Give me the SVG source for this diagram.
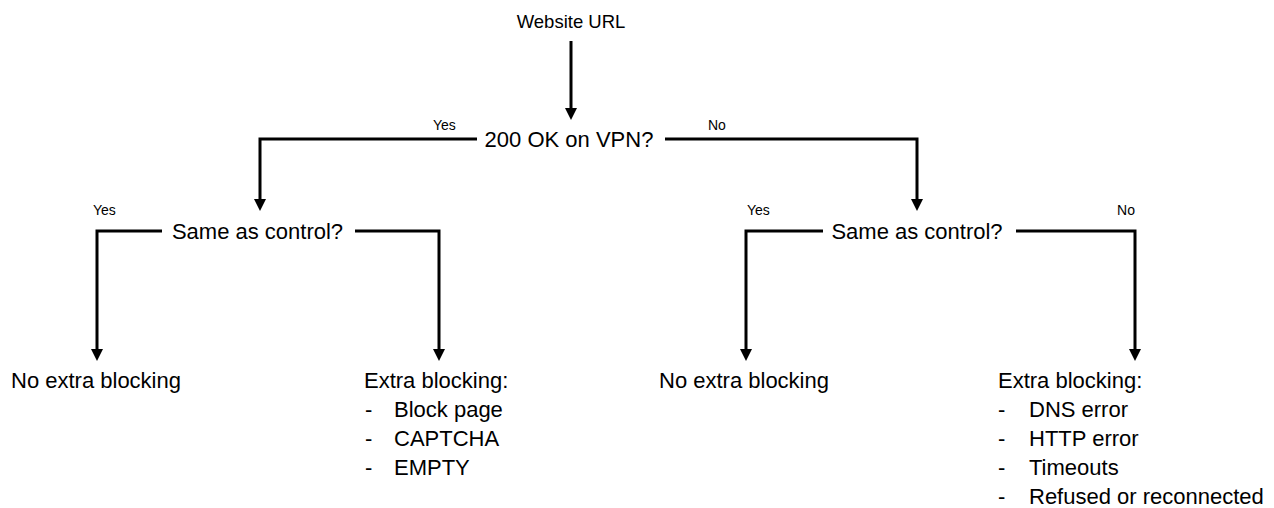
<svg xmlns="http://www.w3.org/2000/svg" width="1274" height="508" viewBox="0 0 1274 508">
<style>
text{font-family:"Liberation Sans",Arial,sans-serif;fill:#000}
.q{font-size:22px}
.t{font-size:22px}
.lab{font-size:14px}
.c{stroke:#000;stroke-width:3;fill:none}
</style>
<defs>
<marker id="ah" markerUnits="userSpaceOnUse" markerWidth="12" markerHeight="12" viewBox="0 0 10 10" refX="0" refY="5" orient="auto">
<path d="M0,0 L10,5 L0,10 z" fill="#000"/>
</marker>
</defs>
<rect width="1274" height="508" fill="#fff"/>
<g id="connectors">
<path class="c" d="M571,41 V108" marker-end="url(#ah)"/>
<path class="c" d="M477,139 H260 V199" marker-end="url(#ah)"/>
<path class="c" d="M665,139 H917 V199" marker-end="url(#ah)"/>
<path class="c" d="M162,231 H97 V349" marker-end="url(#ah)"/>
<path class="c" d="M355,231 H439 V349" marker-end="url(#ah)"/>
<path class="c" d="M823,231 H746 V349" marker-end="url(#ah)"/>
<path class="c" d="M1016,231 H1135 V349" marker-end="url(#ah)"/>
</g>
<g id="labels">
<text class="lab" x="433" y="129.5">Yes</text>
<text class="lab" x="708" y="129.5">No</text>
<text class="lab" x="93" y="215">Yes</text>
<text class="lab" x="747" y="215">Yes</text>
<text class="lab" x="1135" y="215" text-anchor="end">No</text>
</g>
<g id="start"><text x="571" y="28" font-size="18.5" text-anchor="middle">Website URL</text></g>
<g id="vpn"><text class="q" x="569" y="146.5" text-anchor="middle">200 OK on VPN?</text></g>
<g id="control-left"><text class="q" x="257.5" y="238.5" text-anchor="middle">Same as control?</text></g>
<g id="control-right"><text class="q" x="917" y="238.5" text-anchor="middle">Same as control?</text></g>
<g id="no-extra-left"><text class="t" x="11" y="387.5">No extra blocking</text></g>
<g id="extra-left">
<text class="t" x="364" y="388">Extra blocking:</text>
<text class="t" x="365" y="417">-</text><text class="t" x="394" y="417">Block page</text>
<text class="t" x="365" y="446">-</text><text class="t" x="394" y="446">CAPTCHA</text>
<text class="t" x="365" y="475">-</text><text class="t" x="394" y="475">EMPTY</text>
</g>
<g id="no-extra-right"><text class="t" x="659" y="387.5">No extra blocking</text></g>
<g id="extra-right">
<text class="t" x="998" y="388">Extra blocking:</text>
<text class="t" x="998" y="417">-</text><text class="t" x="1029" y="417">DNS error</text>
<text class="t" x="998" y="446">-</text><text class="t" x="1029" y="446">HTTP error</text>
<text class="t" x="998" y="475">-</text><text class="t" x="1029" y="475">Timeouts</text>
<text class="t" x="998" y="504">-</text><text class="t" x="1029" y="504">Refused or reconnected</text>
</g>
</svg>
